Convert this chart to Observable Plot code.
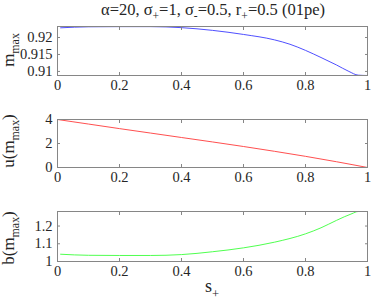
<!DOCTYPE html>
<html>
<head>
<meta charset="utf-8">
<script src="https://cdn.jsdelivr.net/npm/d3@7"></script>
<script src="https://cdn.jsdelivr.net/npm/@observablehq/plot@0.6"></script>
<style>
  html, body { margin: 0; padding: 0; background: #fff; }
  #fig { position: relative; width: 374px; height: 304px; background: #fff; font-family: "Liberation Serif", Tinos, serif; color: #262626; overflow: hidden; }
  #fig svg, #fig svg text { font-family: "Liberation Serif", Tinos, serif !important; }
  #fig svg text { font-size: 14.5px !important; }
  .ylab { position: absolute; white-space: nowrap; font-size: 17px; line-height: 12px; transform: translate(-50%, -50%) rotate(-90deg); }
  .ylab sub, .xlab sub, .title sub { font-size: 0.7em; vertical-align: -0.45em; line-height: 0; }
  .title { position: absolute; white-space: nowrap; font-size: 16.5px; line-height: 17px; transform: translateX(-50%); }
  .xlab { position: absolute; white-space: nowrap; font-size: 18px; line-height: 18px; transform: translateX(-50%); }
</style>
</head>
<body>
<div id="fig"></div>
<script>
// ---- data ----
const xTicks = [0, 0.2, 0.4, 0.6, 0.8, 1];

const s1 = [0.01, 0.1, 0.2, 0.3, 0.4, 0.5, 0.6, 0.7, 0.75, 0.8, 0.85, 0.9, 0.94, 0.97, 1.0];
const mMax = [0.92285, 0.92315, 0.9232, 0.9232, 0.9229, 0.9221, 0.9209, 0.9193, 0.918, 0.9162, 0.9141, 0.9119, 0.9100, 0.9089, 0.9088];
const yTicks1 = [0.91, 0.915, 0.92];
const yDomain1 = [0.9088, 0.92324];

const s2 = [0, 0.1, 0.2, 0.3, 0.4, 0.5, 0.6, 0.7, 0.8, 0.9, 1.0];
const uMax = [4, 3.62, 3.24, 2.87, 2.5, 2.13, 1.75, 1.35, 0.93, 0.48, 0];
const yTicks2 = [0, 2, 4];
const yDomain2 = [0, 4];

const s3 = [0.01, 0.1, 0.2, 0.3, 0.4, 0.5, 0.6, 0.7, 0.8, 0.85, 0.9, 0.95, 0.97, 1.0];
const bMax = [1.041, 1.035, 1.034, 1.034, 1.039, 1.055, 1.077, 1.109, 1.156, 1.19, 1.232, 1.27, 1.282, 1.282];
const yTicks3 = [1, 1.1, 1.2];
const yDomain3 = [1, 1.282];

// ---- drawing ----
const fig = document.getElementById("fig");
const FRAME = "#868686";
const TEXT = "#262626";
const FONT = "Liberation Serif";

function panel({xs, ys, color, yTicks, yDomain, top, marginTop, innerH, marginBottom}) {
  const data = xs.map((x, i) => ({x, y: ys[i]}));
  const fmt = d => String(d);
  const blank = () => "";
  const p = Plot.plot({
    width: 374,
    height: marginTop + innerH + marginBottom,
    marginLeft: 57,
    marginRight: 7,
    marginTop,
    marginBottom,
    style: {fontFamily: FONT, fontSize: "14.5px", background: "transparent", overflow: "visible"},
    x: {domain: [0, 1]},
    y: {domain: yDomain},
    marks: [
      Plot.line(data, {x: "x", y: "y", stroke: color, strokeWidth: 0.9, curve: "monotone-x"}),
      Plot.frame({stroke: FRAME}),
      Plot.axisX({anchor: "bottom", ticks: xTicks, tickFormat: fmt, tickSize: -3, tickPadding: 7, stroke: FRAME, fill: TEXT, fontFamily: FONT, fontSize: 14.5, label: null}),
      Plot.axisX({anchor: "top", ticks: xTicks, tickFormat: blank, tickSize: -3, stroke: FRAME, label: null}),
      Plot.axisY({anchor: "left", ticks: yTicks, tickFormat: fmt, tickSize: -3, tickPadding: 8, stroke: FRAME, fill: TEXT, fontFamily: FONT, fontSize: 14.5, label: null}),
      Plot.axisY({anchor: "right", ticks: yTicks, tickFormat: blank, tickSize: -3, stroke: FRAME, label: null})
    ]
  });
  p.style.position = "absolute";
  p.style.left = "0px";
  p.style.top = top + "px";
  fig.appendChild(p);
}

panel({xs: s1, ys: mMax, color: "#3b3bff", yTicks: yTicks1, yDomain: yDomain1, top: 0, marginTop: 26, innerH: 49, marginBottom: 22});
panel({xs: s2, ys: uMax, color: "#ff3b3b", yTicks: yTicks2, yDomain: yDomain2, top: 100, marginTop: 19, innerH: 48, marginBottom: 22});
panel({xs: s3, ys: bMax, color: "#3bff3b", yTicks: yTicks3, yDomain: yDomain3, top: 192, marginTop: 19, innerH: 50, marginBottom: 22});

function addHTML(cls, html, left, top) {
  const d = document.createElement("div");
  d.className = cls;
  d.innerHTML = html;
  d.style.left = left + "px";
  d.style.top = top + "px";
  fig.appendChild(d);
}

addHTML("title", "α=20, σ<sub>+</sub>=1, σ<sub>-</sub>=0.5, r<sub>+</sub>=0.5 (01pe)", 213, 1);
addHTML("ylab", "m<sub>max</sub>", 9, 50);
addHTML("ylab", "u(m<sub>max</sub>)", 9, 141);
addHTML("ylab", "b(m<sub>max</sub>)", 9, 238);
addHTML("xlab", "s<sub>+</sub>", 212, 277);
</script>
</body>
</html>
